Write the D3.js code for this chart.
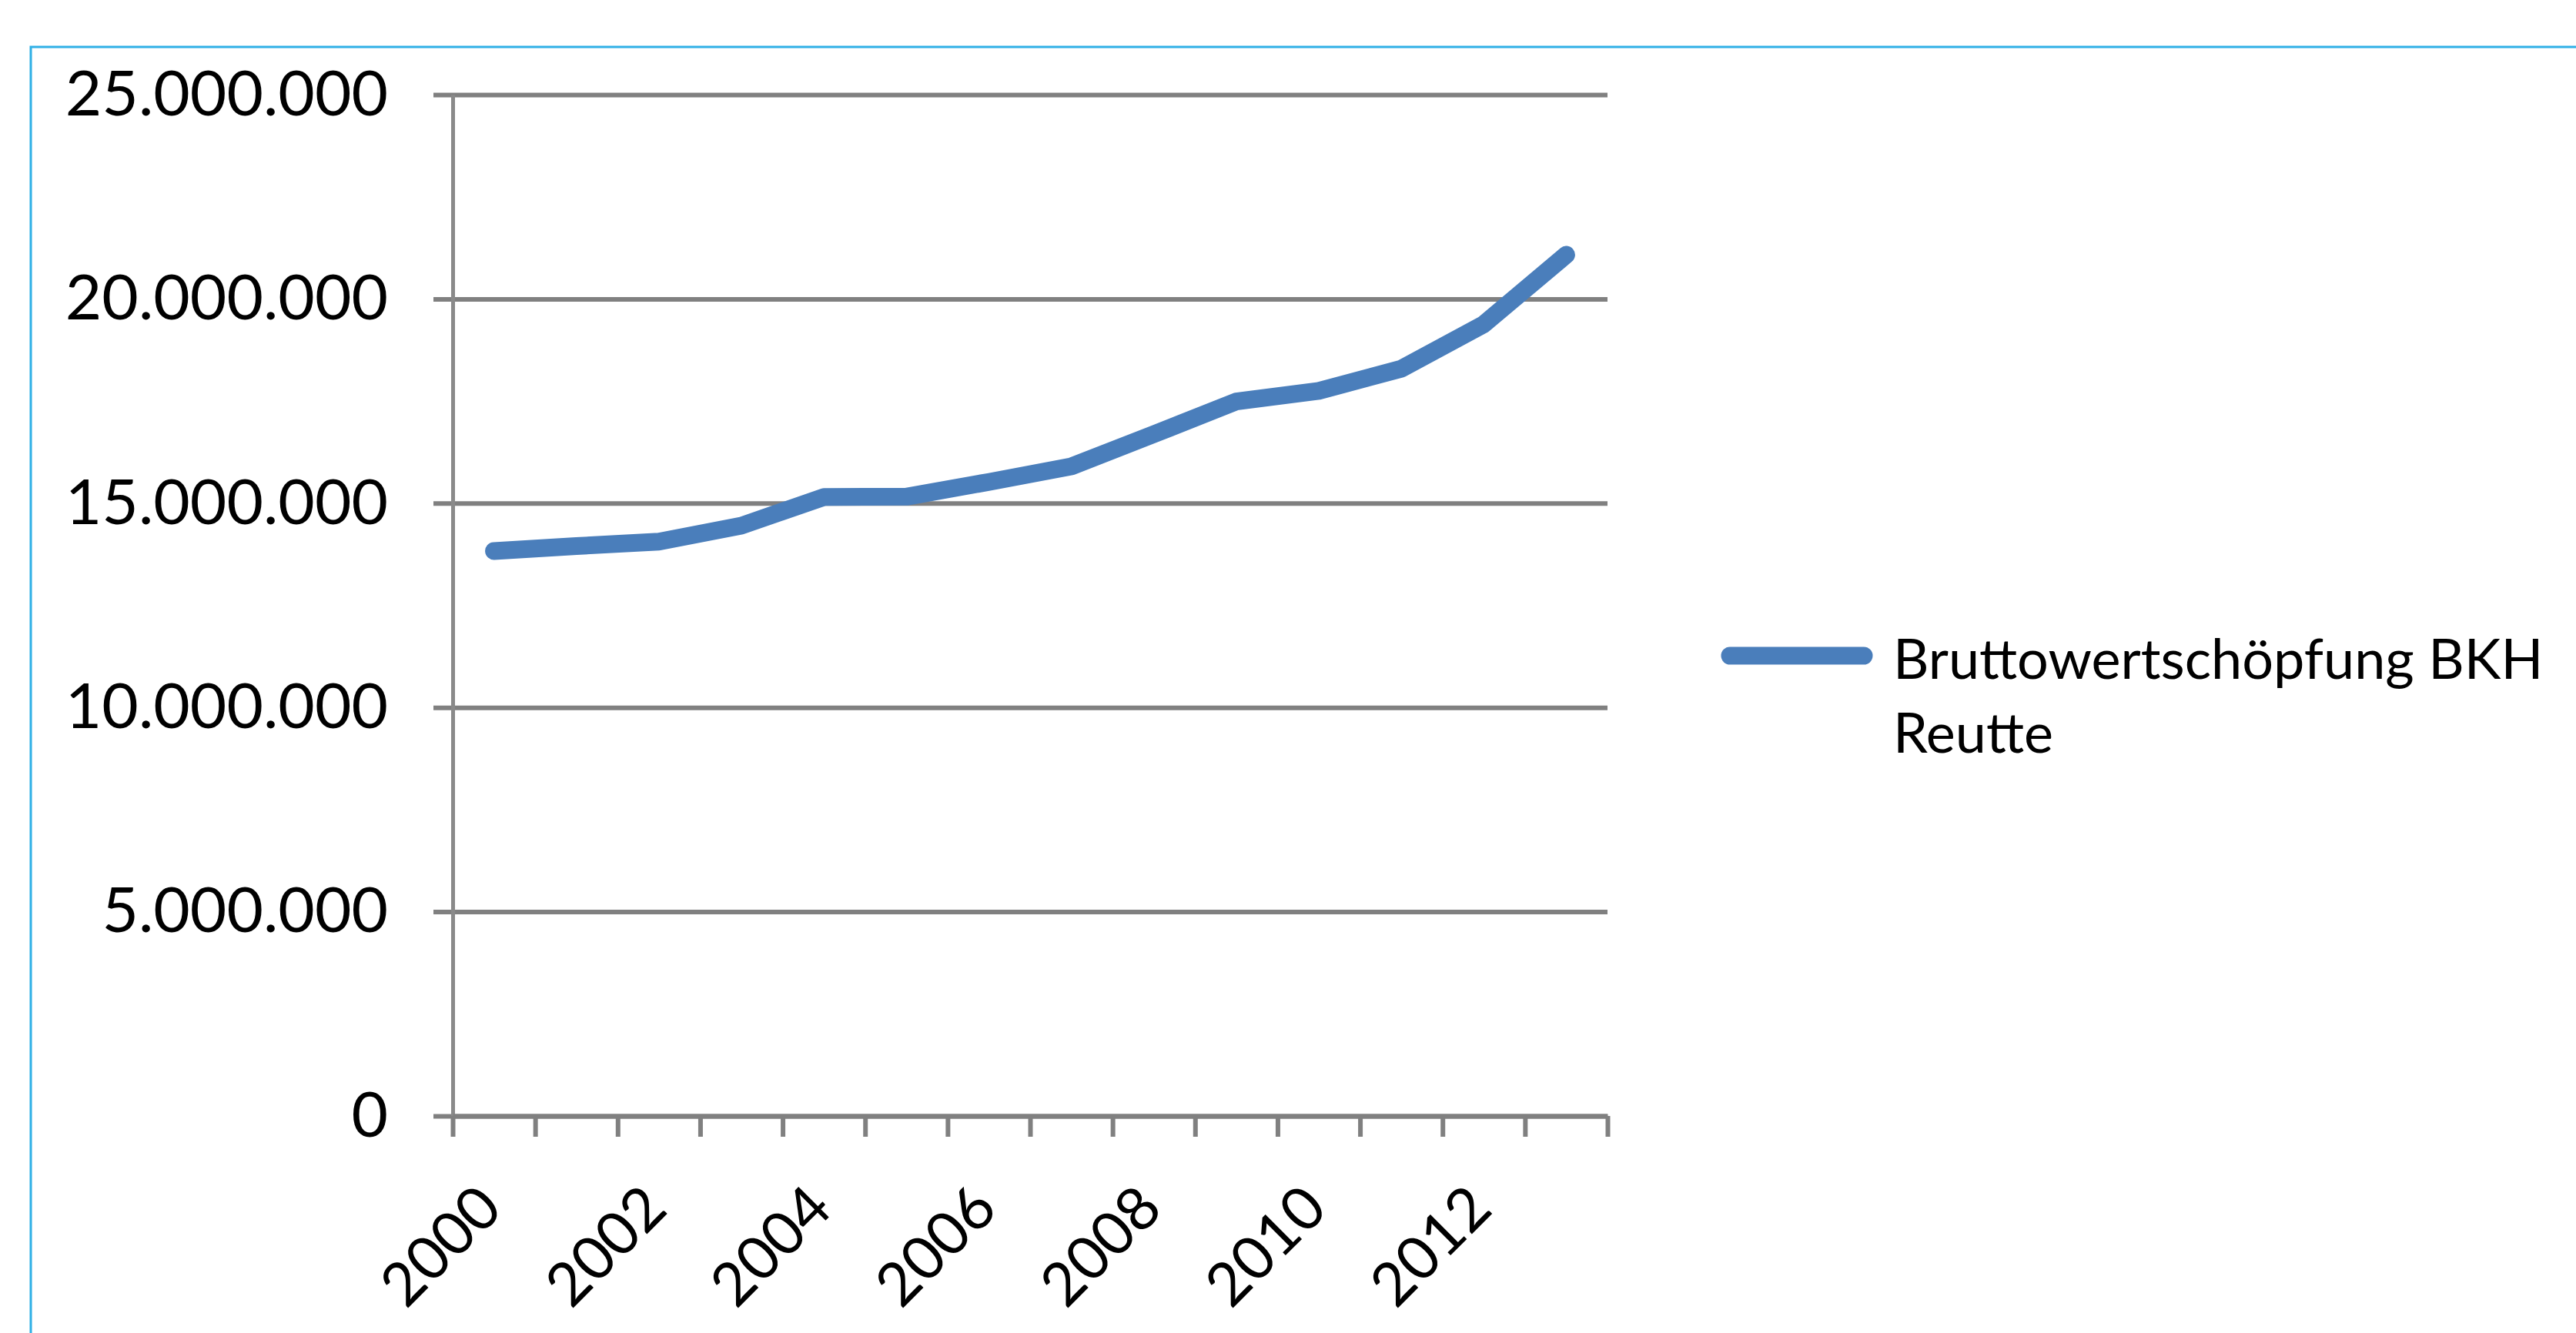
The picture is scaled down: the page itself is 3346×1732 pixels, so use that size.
<!DOCTYPE html>
<html lang="de">
<head>
    <meta charset="UTF-8">
    <title>Bruttowertschöpfung BKH Reutte</title>
    <script src="https://cdnjs.cloudflare.com/ajax/libs/d3/7.8.5/d3.min.js"></script>
    <style>
        body {
            margin: 0;
            padding: 0;
            background-color: #ffffff;
            font-family: Lato, 'Open Sans', sans-serif;
        }
        svg { display: block; }
    </style>
</head>
<body>
    <div id="chart"></div>

    <script>
        // Data
        const years = ["2000", "2001", "2002", "2003", "2004", "2005", "2006",
                       "2007", "2008", "2009", "2010", "2011", "2012", "2013"];
        const values = [13830000, 13950000, 14060000, 14450000, 15150000, 15160000, 15520000,
                        15900000, 16690000, 17490000, 17750000, 18290000, 19380000, 21080000];
        const yTicks = [0, 5000000, 10000000, 15000000, 20000000, 25000000];
        const xTickLabels = ["2000", "2002", "2004", "2006", "2008", "2010", "2012"];
        const legendLines = ["Bruttowertschöpfung BKH", "Reutte"];

        // Dimensions
        const width = 3346;
        const height = 1732;
        const plot = { left: 588, right: 2088, top: 123, bottom: 1450 };

        const lineColor = "#4a7ebb";
        const axisColor = "#808080";

        const de = d3.formatLocale({ decimal: ",", thousands: ".", grouping: [3], currency: ["", " €"] });
        const fmt = de.format(",.0f");

        const svg = d3.select("#chart")
            .append("svg")
            .attr("width", width)
            .attr("height", height);

        // outer frame (runs off the right and bottom edge)
        svg.append("rect")
            .attr("x", 40)
            .attr("y", 61)
            .attr("width", width)
            .attr("height", height)
            .attr("fill", "none")
            .attr("stroke", "#2fb0e6")
            .attr("stroke-width", 3);

        // Scales
        const y = d3.scaleLinear()
            .domain([0, 25000000])
            .range([plot.bottom, plot.top]);

        const x = d3.scaleBand()
            .domain(years)
            .range([plot.left, plot.right]);

        const xTicks = d3.scaleLinear()
            .domain([0, years.length])
            .range([plot.left, plot.right]);

        // Gridlines (reach 25px left of the axis)
        const grid = svg.append("g")
            .attr("transform", `translate(${plot.right},0)`)
            .call(d3.axisLeft(y)
                .tickValues(yTicks)
                .tickSize(plot.right - plot.left + 25)
                .tickFormat(""));
        grid.select(".domain").remove();
        grid.selectAll(".tick line")
            .attr("stroke", axisColor)
            .attr("stroke-width", 6);

        // Y axis line + labels
        const yAxis = svg.append("g")
            .attr("transform", `translate(${plot.left},0)`)
            .call(d3.axisLeft(y)
                .tickValues(yTicks)
                .tickSize(0)
                .tickPadding(84)
                .tickFormat(fmt));
        yAxis.select(".domain")
            .attr("stroke", "#8a8a8a")
            .attr("stroke-width", 5);
        yAxis.selectAll(".tick text")
            .attr("fill", "#000")
            .style("font-family", "Lato, 'Open Sans', sans-serif")
            .style("font-size", "82px");

        // X axis line with tick marks between categories
        const xAxis = svg.append("g")
            .attr("transform", `translate(0,${plot.bottom})`)
            .call(d3.axisBottom(xTicks)
                .tickValues(d3.range(years.length + 1))
                .tickSizeInner(27)
                .tickSizeOuter(0)
                .tickFormat(""));
        xAxis.select(".domain")
            .attr("stroke", axisColor)
            .attr("stroke-width", 6);
        xAxis.selectAll(".tick line")
            .attr("stroke", axisColor)
            .attr("stroke-width", 6);

        // X labels, rotated (tick groups already sit on band centres)
        const xLabels = svg.append("g")
            .attr("transform", `translate(0,${plot.bottom})`)
            .call(d3.axisBottom(x)
                .tickValues(xTickLabels)
                .tickSize(0));
        xLabels.select(".domain").remove();
        xLabels.selectAll(".tick text")
            .attr("x", 14)
            .attr("y", 124)
            .attr("dy", 0)
            .attr("text-anchor", "end")
            .attr("transform", "rotate(-45, 14, 124)")
            .attr("fill", "#000")
            .style("font-family", "Lato, 'Open Sans', sans-serif")
            .style("font-size", "78px");

        // Data line
        const line = d3.line()
            .x((d, i) => x(years[i]) + x.bandwidth() / 2)
            .y(d => y(d));

        svg.append("path")
            .datum(values)
            .attr("d", line)
            .attr("fill", "none")
            .attr("stroke", lineColor)
            .attr("stroke-width", 23)
            .attr("stroke-linejoin", "round")
            .attr("stroke-linecap", "round");

        // Legend
        const legend = svg.append("g")
            .attr("transform", "translate(2236,852)");

        legend.append("line")
            .attr("x1", 11)
            .attr("x2", 185)
            .attr("y1", 0)
            .attr("y2", 0)
            .attr("stroke", lineColor)
            .attr("stroke-width", 23)
            .attr("stroke-linecap", "round");

        legend.selectAll("text")
            .data(legendLines)
            .join("text")
            .attr("x", 223)
            .attr("y", (d, i) => 30 + i * 96)
            .attr("fill", "#000")
            .style("font-family", "Lato, 'Open Sans', sans-serif")
            .style("font-size", "72px")
            .text(d => d);
    </script>
</body>
</html>
